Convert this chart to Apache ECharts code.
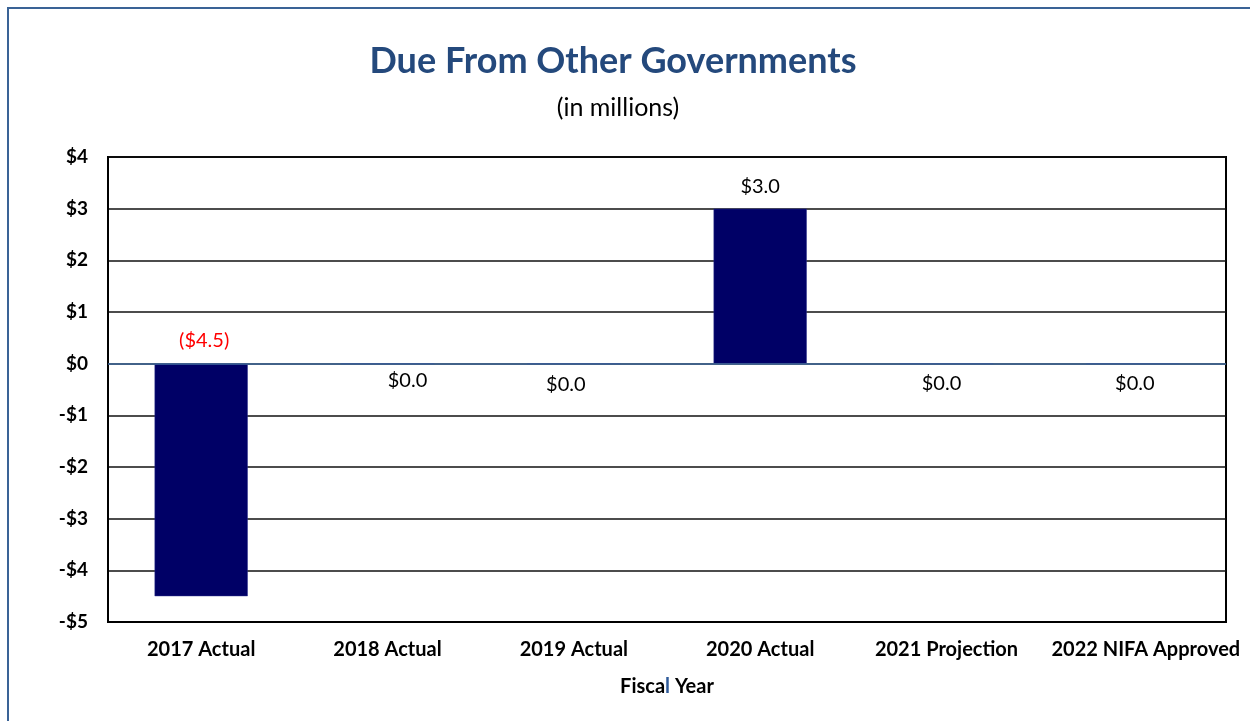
<!DOCTYPE html>
<html>
<head>
<meta charset="utf-8">
<script src="https://cdn.jsdelivr.net/npm/echarts@6/dist/echarts.min.js"></script>
<style>
  html, body { margin: 0; padding: 0; overflow: hidden; background: #fff; }
  .frame {
    position: absolute; left: 7px; top: 7px; width: 1270px; height: 740px;
    border: 2px solid #3a6396; box-sizing: border-box;
  }
  #chart { position: absolute; left: 0; top: 0; width: 1250px; height: 721px; }
</style>
</head>
<body>
<div class="frame"></div>
<div id="chart"></div>
<script>
const categories = ['2017 Actual', '2018 Actual', '2019 Actual', '2020 Actual', '2021 Projection', '2022 NIFA Approved']
const values = [-4.5, 0, 0, 3.0, 0, 0]
const yTicks = [-5, -4, -3, -2, -1, 0, 1, 2, 3, 4]

// small label nudges, like the hand-placed labels in the original
const labelNudge = [[3, 0], [20, -2], [-8, 2], [0, 0], [-5, 1], [2, 1]]

const font = 'Lato, "Open Sans", sans-serif'

function money (v) {
  const s = '$' + Math.abs(v).toFixed(1)
  return v < 0 ? '(' + s + ')' : s
}

const chart = echarts.init(document.getElementById('chart'))

const barData = values.map((v, i) => ({
  value: v,
  label: {
    position: v === 0 ? 'bottom' : 'top',
    distance: v === 0 ? 9 : (v < 0 ? 13 : 12),
    offset: labelNudge[i],
    color: v < 0 ? '#ff0000' : '#000'
  }
}))

chart.setOption({
  animation: false,
  title: [
    {
      text: 'Due From Other Governments',
      left: 608,
      textAlign: 'center',
      top: 38,
      textStyle: { fontFamily: font, fontSize: 36, fontWeight: 'bold', color: '#24497c' }
    },
    {
      text: '(in millions)',
      left: 613,
      textAlign: 'center',
      top: 90,
      textStyle: { fontFamily: font, fontSize: 25, fontWeight: 'normal', color: '#000' }
    }
  ],
  grid: {
    left: 108,
    right: 24,
    top: 157,
    bottom: 99,
    show: true,
    borderColor: '#000',
    borderWidth: 2,
    containLabel: false
  },
  xAxis: {
    type: 'category',
    data: categories,
    axisTick: { show: false },
    axisLine: { onZero: false, lineStyle: { color: '#000', width: 2 } },
    axisLabel: {
      interval: 0,
      margin: 18,
      fontFamily: font,
      fontSize: 20,
      fontWeight: 'bold',
      color: '#000',
      // last label sits a little to the right in the original
      formatter: (v, i) => (i === categories.length - 1 ? '{s|' + v + '}' : v),
      rich: {
        s: { fontFamily: font, fontSize: 20, fontWeight: 'bold', color: '#000', padding: [0, 0, 0, 26] }
      }
    },
    name: '{a|Fisca}{b|l}{a| Year}',
    nameLocation: 'middle',
    nameGap: 55,
    nameTextStyle: {
      rich: {
        a: { fontFamily: font, fontSize: 20, fontWeight: 'bold', color: '#000' },
        b: { fontFamily: font, fontSize: 20, fontWeight: 'bold', color: '#2f5b9a' }
      }
    }
  },
  yAxis: {
    type: 'value',
    min: yTicks[0],
    max: yTicks[yTicks.length - 1],
    interval: 1,
    axisLine: { show: true, lineStyle: { color: '#000', width: 2 } },
    axisTick: { show: false },
    splitLine: { lineStyle: { color: '#111', width: 1.5 } },
    axisLabel: {
      margin: 20,
      fontFamily: font,
      fontSize: 19,
      fontWeight: 'bold',
      color: '#000',
      formatter: v => (v < 0 ? '-$' + Math.abs(v) : '$' + v)
    }
  },
  series: [
    {
      type: 'bar',
      data: barData,
      barWidth: '50%',
      itemStyle: { color: '#000066', borderColor: '#2a2f8a', borderWidth: 0.5 },
      label: {
        show: true,
        fontFamily: font,
        fontSize: 20,
        formatter: p => money(p.value)
      },
      markLine: {
        silent: true,
        symbol: 'none',
        label: { show: false },
        lineStyle: { color: '#3f6a9e', width: 1.5, type: 'solid' },
        data: [{ yAxis: 0 }]
      }
    }
  ]
})
</script>
</body>
</html>
